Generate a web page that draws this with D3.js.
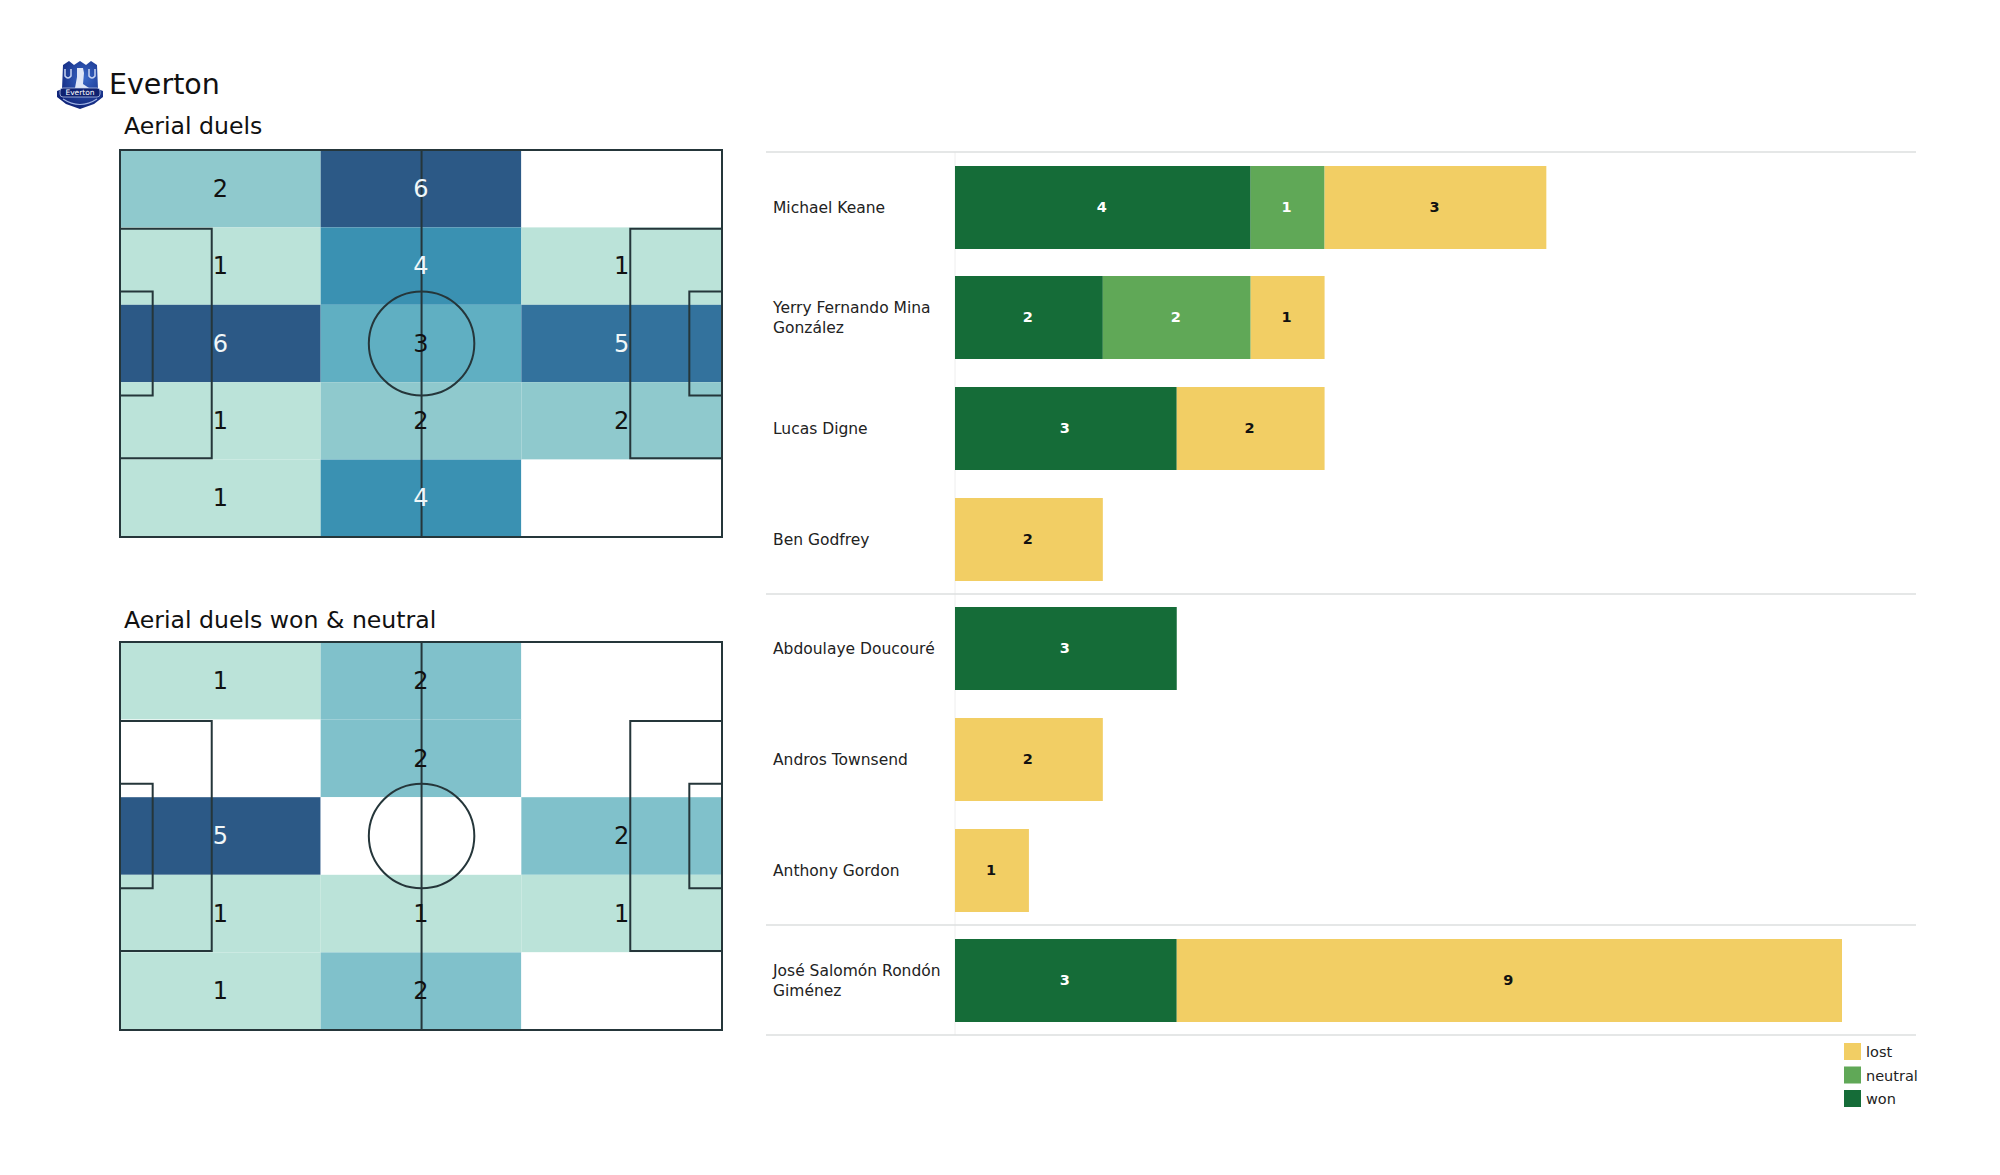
<!DOCTYPE html>
<html><head><meta charset="utf-8">
<script src="https://cdn.jsdelivr.net/npm/d3@7/dist/d3.min.js"></script>
<style>
html,body{margin:0;padding:0;background:#fff}
svg{display:block}
text{font-family:"DejaVu Sans",sans-serif}
</style></head><body>
<svg id="chart" width="2000" height="1175"></svg>
<script>
// ---- data ----
const teamName = "Everton";
const heatTitles = ["Aerial duels", "Aerial duels won & neutral"];
const heatAll = [[2,6,0],[1,4,1],[6,3,5],[1,2,2],[1,4,0]];
const heatWon = [[1,2,0],[0,2,0],[5,0,2],[1,1,1],[1,2,0]];
const heatAllColors = ["#ffffff","#bbe3d9","#8fc9cd","#60afc2","#3a91b2","#33729d","#2c5986"];
const heatWonColors = ["#ffffff","#bbe3d9","#80c1cb","#60afc2","#3a91b2","#2c5986"];
const players = ["Michael Keane","Yerry Fernando Mina González","Lucas Digne","Ben Godfrey","Abdoulaye Doucouré","Andros Townsend","Anthony Gordon","José Salomón Rondón Giménez"];
const playerLines = [["Michael Keane"],["Yerry Fernando Mina","González"],["Lucas Digne"],["Ben Godfrey"],["Abdoulaye Doucouré"],["Andros Townsend"],["Anthony Gordon"],["José Salomón Rondón","Giménez"]];
const won = [4,2,3,0,3,0,0,3];
const neutral = [1,2,0,0,0,0,0,0];
const lost = [3,1,2,2,0,2,1,9];
const seriesNames = ["won","neutral","lost"];
const seriesColors = ["#156c38","#60a857","#f2ce64"];
const legendOrder = ["lost","neutral","won"];

// ---- layout ----
const svg = d3.select("#chart");
const ink = "#25363a";

// header
const crest = svg.append("g").attr("transform","translate(80,85)");
const grad = svg.append("defs").append("radialGradient").attr("id","cg").attr("cx","60%").attr("cy","35%").attr("r","65%");
grad.append("stop").attr("offset","0%").attr("stop-color","#3a68c8");
grad.append("stop").attr("offset","100%").attr("stop-color","#10257a");
crest.append("path").attr("d","M-17,-20 L-11,-24 L-6,-20 L0,-24 L6,-20 L11,-24 L17,-20 L18,4 L23,6 L23,12 L14,19 L0,24 L-14,19 L-23,12 L-23,6 L-18,4 Z").attr("fill","url(#cg)");
crest.append("path").attr("d","M-3,-17 L3,-17 L4,-12 L3,-1 L9,3 L-5,3 L-3,-8 Z").attr("fill","#dfe6f7");
crest.append("path").attr("d","M-15,-16 V-9 Q-12,-5 -9,-9 V-16 M9,-16 V-9 Q12,-5 15,-9 V-16").attr("fill","none").attr("stroke","#c9d5f2").attr("stroke-width",1.5);
crest.append("rect").attr("x",-20).attr("y",3).attr("width",40).attr("height",9).attr("rx",3).attr("fill","#0e2170").attr("stroke","#c9d5f2").attr("stroke-width",.7);
crest.append("text").attr("y",10).attr("text-anchor","middle").attr("font-size",7.5).attr("fill","#fff").text(teamName);
crest.append("path").attr("d","M-17,14 Q0,25 17,14").attr("fill","none").attr("stroke","#9fb2e4").attr("stroke-width",1.2);
svg.append("text").attr("x",109).attr("y",94).attr("font-size",28.5).attr("fill","#111").text(teamName);

// pitches
function drawPitch(title, values, colors, top, bottom, titleY){
  const left = 120, right = 722;
  const sx = d3.scaleLinear().domain([0,105]).range([left,right]);
  const sy = d3.scaleLinear().domain([0,68]).range([top,bottom]);
  const colBand = d3.scaleBand().domain(d3.range(3)).range([left,right]);
  const rowBand = d3.scaleBand().domain(d3.range(5)).range([top,bottom]);
  const color = d3.scaleOrdinal().domain(d3.range(colors.length)).range(colors);
  svg.append("text").attr("x",124).attr("y",titleY).attr("font-size",23.6).attr("fill","#111").text(title);
  const g = svg.append("g");
  const cells = values.flatMap((r,i)=>r.map((v,j)=>({r:i,c:j,v})));
  g.selectAll("rect.cell").data(cells).join("rect").attr("class","cell")
    .attr("x",d=>colBand(d.c)).attr("y",d=>rowBand(d.r))
    .attr("width",colBand.bandwidth()).attr("height",rowBand.bandwidth())
    .attr("fill",d=>color(d.v));
  const line = g.append("g").attr("fill","none").attr("stroke",ink).attr("stroke-width",2);
  line.append("rect").attr("x",sx(0)).attr("y",sy(0)).attr("width",sx(105)-sx(0)).attr("height",sy(68)-sy(0));
  line.append("line").attr("x1",sx(52.6)).attr("x2",sx(52.6)).attr("y1",sy(0)).attr("y2",sy(68));
  line.append("ellipse").attr("cx",sx(52.6)).attr("cy",sy(34)).attr("rx",sx(9.2)-sx(0)).attr("ry",sy(9.15)-sy(0));
  [[0,16,13.85,54.15],[0,5.7,24.85,43.15],[105,89,13.85,54.15],[105,99.3,24.85,43.15]].forEach(([a,b,c,d])=>{
    line.append("path").attr("d",`M${sx(a)},${sy(c)}H${sx(b)}V${sy(d)}H${sx(a)}`);
  });
  g.selectAll("text.val").data(cells.filter(d=>d.v>0)).join("text").attr("class","val")
    .attr("x",d=>colBand(d.c)+colBand.bandwidth()/2).attr("y",d=>rowBand(d.r)+rowBand.bandwidth()/2)
    .attr("dy","0.34em").attr("text-anchor","middle").attr("font-size",24)
    .attr("fill",d=>d.v>=4?"#f1f7f8":"#111").text(d=>d.v);
}
drawPitch(heatTitles[0], heatAll, heatAllColors, 150, 537, 134);
drawPitch(heatTitles[1], heatWon, heatWonColors, 642, 1030, 628);

// stacked bars
const x = d3.scaleLinear().domain([0,12]).range([955,1842]);
const barTops = [166,276,387,498,607,718,829,939];
const barH = 83;
const y = d3.scaleOrdinal().domain(players).range(barTops);
const sepX = [766,1916];
const rowsData = players.map((p,i)=>({player:p,won:won[i],neutral:neutral[i],lost:lost[i]}));
const stacked = d3.stack().keys(seriesNames)(rowsData);
const colorBar = d3.scaleOrdinal().domain(seriesNames).range(seriesColors);

const sepYs = [152,594,925,1035];
svg.append("line").attr("x1",x(0)).attr("x2",x(0)).attr("y1",152).attr("y2",1035).attr("stroke","#eeeeee").attr("stroke-width",1);
svg.selectAll("line.sep").data(sepYs).join("line").attr("class","sep")
  .attr("x1",sepX[0]).attr("x2",sepX[1]).attr("y1",d=>d).attr("y2",d=>d)
  .attr("stroke","#dcdfdf").attr("stroke-width",1.5);

stacked.forEach(s=>{
  const g = svg.append("g");
  const segs = s.filter(d=>d[1]>d[0]);
  g.selectAll("rect").data(segs).join("rect")
    .attr("x",d=>x(d[0])).attr("y",d=>y(d.data.player))
    .attr("width",d=>x(d[1])-x(d[0])).attr("height",barH).attr("fill",colorBar(s.key));
  g.selectAll("text").data(segs).join("text")
    .attr("x",d=>(x(d[0])+x(d[1]))/2-1).attr("y",d=>y(d.data.player)+barH/2-1)
    .attr("dy","0.36em").attr("text-anchor","middle").attr("font-size",14.5).attr("font-weight","bold")
    .attr("fill",s.key==="lost"?"#111":"#fff").text(d=>d[1]-d[0]);
});

// player labels
players.forEach((p,i)=>{
  const lines = playerLines[i];
  const cy = y(p)+barH/2;
  const t = svg.append("text").attr("font-size",15.5).attr("fill","#222");
  lines.forEach((l,k)=>{
    t.append("tspan").attr("x",773).attr("y",cy+(k-(lines.length-1)/2)*19.5).attr("dy","0.36em").text(l);
  });
});

// legend
const ly = d3.scalePoint().domain(legendOrder).range([1051,1098]);
const lg = svg.append("g").selectAll("g").data(legendOrder).join("g").attr("transform",d=>`translate(1844,${ly(d)})`);
lg.append("rect").attr("x",0).attr("y",-8).attr("width",17).attr("height",17).attr("fill",d=>colorBar(d));
lg.append("text").attr("x",22).attr("y",1).attr("dy","0.36em").attr("font-size",14.5).attr("fill","#222").text(d=>d);
</script>
</body></html>
